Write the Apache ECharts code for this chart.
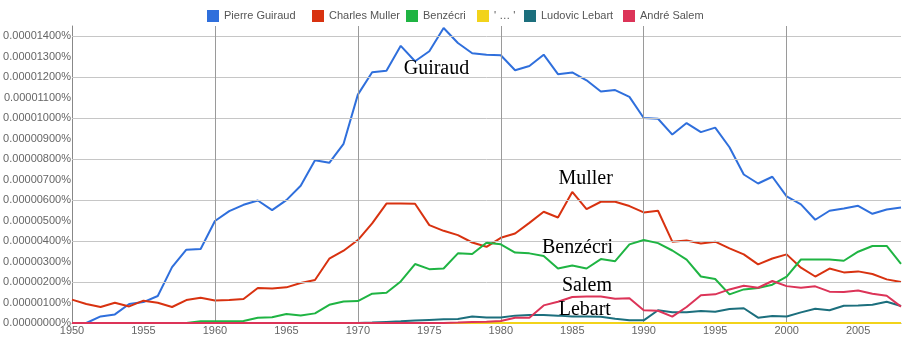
<!DOCTYPE html>
<html>
<head>
<meta charset="utf-8">
<script src="https://cdn.jsdelivr.net/npm/echarts@6/dist/echarts.min.js"></script>
<style>
html,body{margin:0;padding:0;background:#fff;}
#chart{width:909px;height:349px;}
</style>
</head>
<body>
<div id="chart"></div>
<script>
// Values are in units of 0.000001 %
const years = [1950,1951,1952,1953,1954,1955,1956,1957,1958,1959,
  1960,1961,1962,1963,1964,1965,1966,1967,1968,1969,
  1970,1971,1972,1973,1974,1975,1976,1977,1978,1979,
  1980,1981,1982,1983,1984,1985,1986,1987,1988,1989,
  1990,1991,1992,1993,1994,1995,1996,1997,1998,1999,
  2000,2001,2002,2003,2004,2005,2006,2007,2008];

const seriesNames = ["Pierre Guiraud","Charles Muller","Benzécri","' … '","Ludovic Lebart","André Salem"];

const guiraud = [0,0,0.32,0.42,0.93,1.02,1.32,2.73,3.58,3.61,
  4.98,5.46,5.77,5.98,5.51,6.00,6.70,7.95,7.82,8.75,
  11.15,12.24,12.32,13.53,12.78,13.27,14.40,13.67,13.17,13.10,
  13.07,12.34,12.55,13.10,12.15,12.23,11.85,11.30,11.37,11.04,
  10.01,9.97,9.20,9.76,9.32,9.54,8.58,7.25,6.81,7.14,
  6.18,5.79,5.04,5.48,5.59,5.72,5.33,5.54,5.64];

const muller = [1.14,0.93,0.78,0.99,0.81,1.09,0.99,0.78,1.12,1.23,
  1.10,1.12,1.17,1.71,1.69,1.74,1.95,2.10,3.14,3.53,
  4.05,4.86,5.83,5.83,5.82,4.78,4.50,4.29,3.93,3.72,
  4.16,4.37,4.89,5.43,5.15,6.40,5.56,5.92,5.92,5.71,
  5.40,5.48,3.97,4.03,3.88,3.97,3.64,3.35,2.86,3.15,
  3.35,2.70,2.27,2.66,2.47,2.52,2.39,2.13,2.00];

const benzecri = [0,0,0,0,0,0,0,0,0,0.08,
  0.08,0.08,0.10,0.26,0.28,0.44,0.37,0.47,0.89,1.05,
  1.07,1.43,1.48,2.03,2.88,2.63,2.66,3.40,3.37,3.92,
  3.84,3.44,3.40,3.27,2.66,2.81,2.66,3.12,3.02,3.84,
  4.05,3.90,3.54,3.09,2.27,2.15,1.40,1.64,1.71,1.87,
  2.26,3.10,3.10,3.10,3.04,3.48,3.76,3.76,2.89];

const dots = [0,0,0,0,0,0,0,0,0,0,
  0,0,0,0,0,0,0,0,0,0,
  0,0,0,0,0,0,0,0,0,0,
  0,0,0,0,0,0,0,0,0,0,
  0,0,0,0,0,0,0,0,0,0,
  0,0,0,0,0,0,0,0,0];

const lebart = [0,0,0,0,0,0,0,0,0,0,
  0,0,0,0,0,0,0,0,0,0,
  0,0.02,0.05,0.08,0.12,0.15,0.18,0.20,0.32,0.27,
  0.27,0.36,0.39,0.39,0.36,0.32,0.32,0.31,0.21,0.13,
  0.13,0.62,0.52,0.52,0.59,0.55,0.68,0.72,0.26,0.34,
  0.32,0.52,0.70,0.62,0.84,0.86,0.89,1.04,0.83];

const salem = [0,0,0,0,0,0,0,0,0,0,
  0,0,0,0,0,0,0,0,0,0,
  0,0,0,0,0,0,0,0.02,0.05,0.06,
  0.10,0.26,0.26,0.86,1.04,1.27,1.29,1.29,1.18,1.21,
  0.62,0.60,0.31,0.78,1.35,1.40,1.64,1.82,1.72,2.05,
  1.80,1.72,1.79,1.53,1.51,1.59,1.43,1.33,0.80];

const yGridValues = [2,4,6,8,10,12,14];
const xGridValues = [1960,1970,1980,1990,2000];

const annotations = [
  {text: "Guiraud", year: 1975.5, value: 12.40},
  {text: "Muller", year: 1985.94, value: 7.03},
  {text: "Benzécri", year: 1985.37, value: 3.69},
  {text: "Salem", year: 1986.03, value: 1.82},
  {text: "Lebart", year: 1985.88, value: 0.63}
];

const colors = ["#2f6fdc","#d83210","#1fb443","#f2d31b","#1c6f7d","#dc3458"];
const legendLefts = [202, 307, 401, 472, 519, 618];
const allValues = [guiraud, muller, benzecri, dots, lebart, salem];

const chart = echarts.init(document.getElementById('chart'), null, {renderer:'canvas'});

const series = allValues.map((vals, i) => ({
  name: seriesNames[i],
  type: 'line',
  data: years.map((y, k) => [y, vals[k]]),
  showSymbol: false,
  symbol: 'none',
  lineStyle: {width: 2, color: colors[i]},
  itemStyle: {color: colors[i]},
  z: 3 + i,
  animation: false
}));

series.push({
  name: '__grid',
  type: 'line',
  data: [],
  z: 1,
  silent: true,
  markLine: {
    silent: true,
    symbol: ['none','none'],
    label: {show: false},
    animation: false,
    data: yGridValues.map(v => ({yAxis: v, lineStyle: {color: '#c6c6c6', width: 1, type: 'solid'}}))
      .concat(xGridValues.map(v => ({xAxis: v, lineStyle: {color: '#9a9a9a', width: 1, type: 'solid'}})))
  }
});

series.push({
  name: '__labels',
  type: 'scatter',
  data: annotations.map(a => ({value: [a.year, a.value], label: {formatter: a.text}})),
  symbolSize: 0,
  z: 20,
  silent: true,
  itemStyle: {opacity: 1, color: '#000'},
  label: {
    show: true,
    position: 'inside',
    color: '#000',
    opacity: 1,
    textBorderWidth: 0,
    fontFamily: 'Liberation Serif',
    fontSize: 20
  },
  animation: false
});

const legends = seriesNames.map((n, i) => ({
  data: [n],
  top: 5,
  left: legendLefts[i],
  itemWidth: 12,
  itemHeight: 12,
  icon: 'rect',
  textStyle: {color: '#555', fontSize: 11, fontFamily: 'Liberation Sans'}
}));

chart.setOption({
  animation: false,
  backgroundColor: '#fff',
  grid: {left: 72, right: 8, top: 26, bottom: 26},
  legend: legends,
  xAxis: {
    type: 'value',
    min: 1950,
    max: 2008,
    interval: 5,
    axisLine: {show: true, lineStyle: {color: '#888'}},
    axisTick: {show: false},
    splitLine: {show: false},
    axisLabel: {
      color: '#666', fontSize: 11, fontFamily: 'Liberation Sans', margin: 2,
      formatter: v => (v % 5 === 0 ? String(v) : '')
    }
  },
  yAxis: {
    type: 'value',
    min: 0,
    max: 14.5,
    interval: 1,
    axisLine: {show: true, lineStyle: {color: '#888'}},
    axisTick: {show: false},
    splitLine: {show: false},
    axisLabel: {
      color: '#666', fontSize: 11, fontFamily: 'Liberation Sans', margin: 1,
      formatter: v => (Math.abs(v - Math.round(v)) > 1e-9 ? '' : (v * 1e-6).toFixed(8) + '%')
    }
  },
  series: series
});
</script>
</body>
</html>
